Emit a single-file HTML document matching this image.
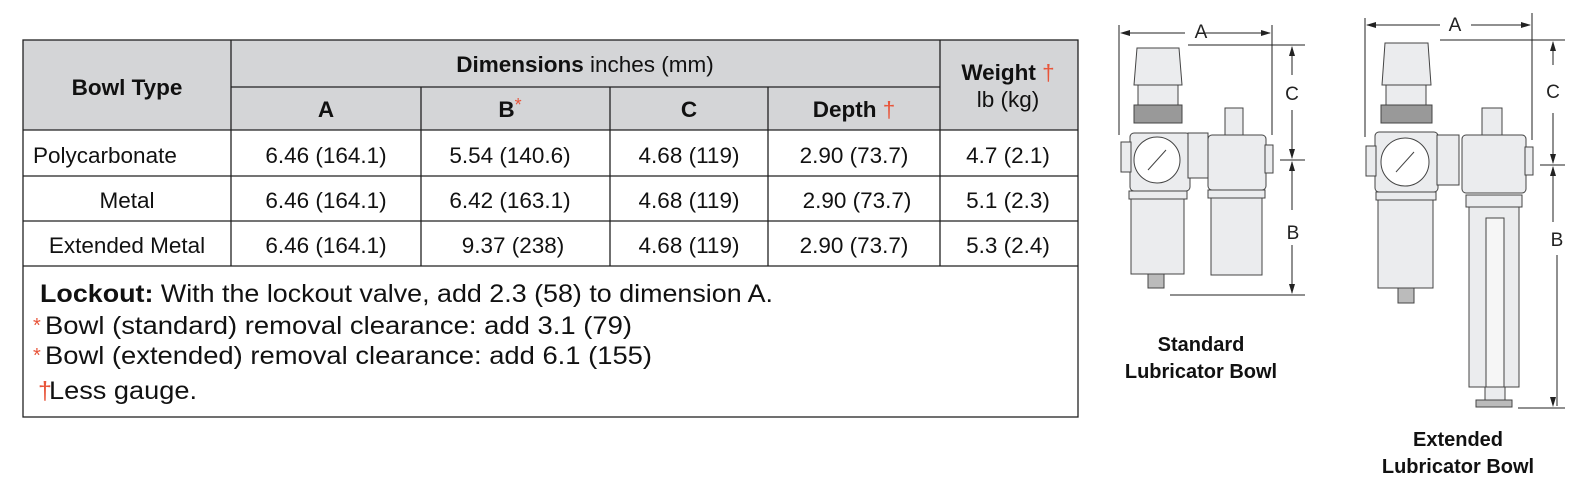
<!DOCTYPE html>
<html><head><meta charset="utf-8"><style>
html,body{margin:0;padding:0;background:#fff;}
svg{display:block;font-family:"Liberation Sans",Arial,sans-serif;}
</style></head><body>
<svg width="1582" height="485" viewBox="0 0 1582 485" xmlns="http://www.w3.org/2000/svg">
<rect x="23" y="40" width="1055" height="90" fill="#d4d5d7"/>
<g stroke="#222" stroke-width="1.3" fill="none">
<rect x="23" y="40" width="1055" height="377"/>
<line x1="231" y1="87" x2="940" y2="87"/>
<line x1="23" y1="130" x2="1078" y2="130"/>
<line x1="23" y1="176" x2="1078" y2="176"/>
<line x1="23" y1="221" x2="1078" y2="221"/>
<line x1="23" y1="266" x2="1078" y2="266"/>
<line x1="231" y1="40" x2="231" y2="266"/>
<line x1="940" y1="40" x2="940" y2="266"/>
<line x1="421" y1="87" x2="421" y2="266"/>
<line x1="610" y1="87" x2="610" y2="266"/>
<line x1="768" y1="87" x2="768" y2="266"/>
</g>
<g font-size="22.5" fill="#111" text-anchor="middle">
<text x="127" y="95" font-weight="bold">Bowl Type</text>
<text x="585" y="72"><tspan font-weight="bold">Dimensions</tspan> inches (mm)</text>
<text x="326" y="117" font-weight="bold">A</text>
<text x="510" y="117" font-weight="bold">B<tspan fill="#e8553a" font-weight="normal" dy="-6" font-size="18">*</tspan></text>
<text x="689" y="117" font-weight="bold">C</text>
<text x="854" y="117" font-weight="bold">Depth <tspan fill="#e8553a" font-weight="normal">†</tspan></text>
<text x="1008" y="80" font-weight="bold">Weight <tspan fill="#e8553a" font-weight="normal">†</tspan></text>
<text x="1008" y="107">lb (kg)</text>
<text x="33" y="163" text-anchor="start">Polycarbonate</text>
<text x="127" y="208">Metal</text>
<text x="127" y="253">Extended Metal</text>
<text x="326" y="163">6.46 (164.1)</text>
<text x="326" y="208">6.46 (164.1)</text>
<text x="326" y="253">6.46 (164.1)</text>
<text x="510" y="163">5.54 (140.6)</text>
<text x="510" y="208">6.42 (163.1)</text>
<text x="513" y="253">9.37 (238)</text>
<text x="689" y="163">4.68 (119)</text>
<text x="689" y="208">4.68 (119)</text>
<text x="689" y="253">4.68 (119)</text>
<text x="854" y="163">2.90 (73.7)</text>
<text x="857" y="208">2.90 (73.7)</text>
<text x="854" y="253">2.90 (73.7)</text>
<text x="1008" y="163">4.7 (2.1)</text>
<text x="1008" y="208">5.1 (2.3)</text>
<text x="1008" y="253">5.3 (2.4)</text>
</g>
<g font-size="25" fill="#111">
<text x="40" y="302" textLength="733" lengthAdjust="spacingAndGlyphs"><tspan font-weight="bold">Lockout:</tspan>  With the lockout valve, add 2.3 (58) to dimension A.</text>
<text x="33" y="332" fill="#e8553a" font-size="20">*</text>
<text x="45" y="334" textLength="587" lengthAdjust="spacingAndGlyphs">Bowl (standard) removal clearance:  add 3.1 (79)</text>
<text x="33" y="362" fill="#e8553a" font-size="20">*</text>
<text x="45" y="364" textLength="607" lengthAdjust="spacingAndGlyphs">Bowl (extended) removal clearance:  add 6.1 (155)</text>
<text x="38" y="399" fill="#e8553a">†</text>
<text x="49" y="399" textLength="148" lengthAdjust="spacingAndGlyphs">Less gauge.</text>
</g>
<g stroke="#222" stroke-width="1" fill="none">
<line x1="1119" y1="25" x2="1119" y2="135"/>
<line x1="1272" y1="25" x2="1272" y2="135"/>
<line x1="1122" y1="33" x2="1185" y2="33"/><line x1="1198" y1="33" x2="1270" y2="33"/>
<line x1="1188" y1="45" x2="1305" y2="45"/>
<line x1="1280" y1="160" x2="1305" y2="160"/>
<line x1="1170" y1="295" x2="1305" y2="295"/>
<line x1="1292" y1="47" x2="1292" y2="75"/><line x1="1292" y1="110" x2="1292" y2="158"/>
<line x1="1292" y1="162" x2="1292" y2="210"/><line x1="1292" y1="245" x2="1292" y2="293"/>
</g>
<g fill="#222">
<polygon points="1120,33 1130,30 1130,36"/><polygon points="1271,33 1261,30 1261,36"/>
<polygon points="1292,46 1289,56 1295,56"/><polygon points="1292,159 1289,149 1295,149"/>
<polygon points="1292,161 1289,171 1295,171"/><polygon points="1292,294 1289,284 1295,284"/>
<polygon points="1366,25 1376,22 1376,28"/><polygon points="1531,25 1521,22 1521,28"/>
<polygon points="1553,41 1550,51 1556,51"/><polygon points="1553,164 1550,154 1556,154"/>
<polygon points="1553,166 1550,176 1556,176"/><polygon points="1553,407 1550,397 1556,397"/>
</g>
<g font-size="19" fill="#222" text-anchor="middle">
<text x="1201" y="38">A</text><text x="1292" y="100">C</text><text x="1293" y="239">B</text>
<text x="1455" y="31">A</text><text x="1553" y="98">C</text><text x="1557" y="246">B</text>
</g>
<g stroke="#444" stroke-width="1" fill="#ebecee">
<path d="M1137,48 L1179,48 L1182,85 L1134,85 Z"/>
<rect x="1138" y="85" width="40" height="20"/>
<rect x="1134" y="105" width="48" height="18" fill="#999"/>
<rect x="1130" y="133" width="60" height="58" rx="4"/>
<rect x="1121" y="142" width="10" height="30"/>
<circle cx="1157" cy="160" r="23" fill="#fff"/>
<line x1="1148" y1="170" x2="1166" y2="150"/>
<rect x="1188" y="133" width="20" height="45"/>
<rect x="1129" y="191" width="58" height="8"/>
<rect x="1131" y="199" width="53" height="75"/>
<rect x="1148" y="274" width="16" height="14" fill="#bbb"/>
<rect x="1208" y="135" width="58" height="55" rx="4"/>
<rect x="1265" y="145" width="8" height="28"/>
<rect x="1225" y="108" width="18" height="27"/>
<rect x="1208" y="190" width="57" height="8"/>
<rect x="1211" y="198" width="51" height="77"/>
</g>
<g stroke="#222" stroke-width="1" fill="none">
<line x1="1365" y1="18" x2="1365" y2="137"/>
<line x1="1532" y1="13" x2="1532" y2="140"/>
<line x1="1367" y1="25" x2="1440" y2="25"/><line x1="1471" y1="25" x2="1530" y2="25"/>
<line x1="1440" y1="40" x2="1565" y2="40"/>
<line x1="1540" y1="165" x2="1565" y2="165"/>
<line x1="1518" y1="408" x2="1565" y2="408"/>
<line x1="1553" y1="42" x2="1553" y2="65"/><line x1="1553" y1="113" x2="1553" y2="163"/>
<line x1="1553" y1="167" x2="1553" y2="222"/><line x1="1557" y1="255" x2="1557" y2="406"/>
</g>
<g stroke="#444" stroke-width="1" fill="#ebecee">
<path d="M1385,43 L1428,43 L1431,85 L1382,85 Z"/>
<rect x="1386" y="85" width="40" height="20"/>
<rect x="1381" y="105" width="51" height="18" fill="#999"/>
<rect x="1375" y="132" width="63" height="60" rx="4"/>
<rect x="1366" y="146" width="10" height="30"/>
<circle cx="1405" cy="162" r="24" fill="#fff"/>
<line x1="1396" y1="172" x2="1414" y2="152"/>
<rect x="1437" y="135" width="22" height="50"/>
<rect x="1376" y="192" width="60" height="8"/>
<rect x="1378" y="200" width="55" height="88"/>
<rect x="1398" y="288" width="16" height="15" fill="#bbb"/>
<rect x="1462" y="135" width="64" height="58" rx="4"/>
<rect x="1525" y="147" width="8" height="28"/>
<rect x="1482" y="108" width="20" height="27"/>
<rect x="1466" y="195" width="56" height="12"/>
<rect x="1469" y="207" width="50" height="180"/>
<rect x="1486" y="218" width="18" height="170" fill="#f6f6f6"/>
<rect x="1485" y="387" width="20" height="13"/>
<rect x="1476" y="400" width="36" height="7" fill="#bbb"/>
</g>
<g font-size="20" font-weight="bold" fill="#111" text-anchor="middle">
<text x="1201" y="351">Standard</text>
<text x="1201" y="378">Lubricator Bowl</text>
<text x="1458" y="446">Extended</text>
<text x="1458" y="473">Lubricator Bowl</text>
</g>
</svg>
</body></html>
